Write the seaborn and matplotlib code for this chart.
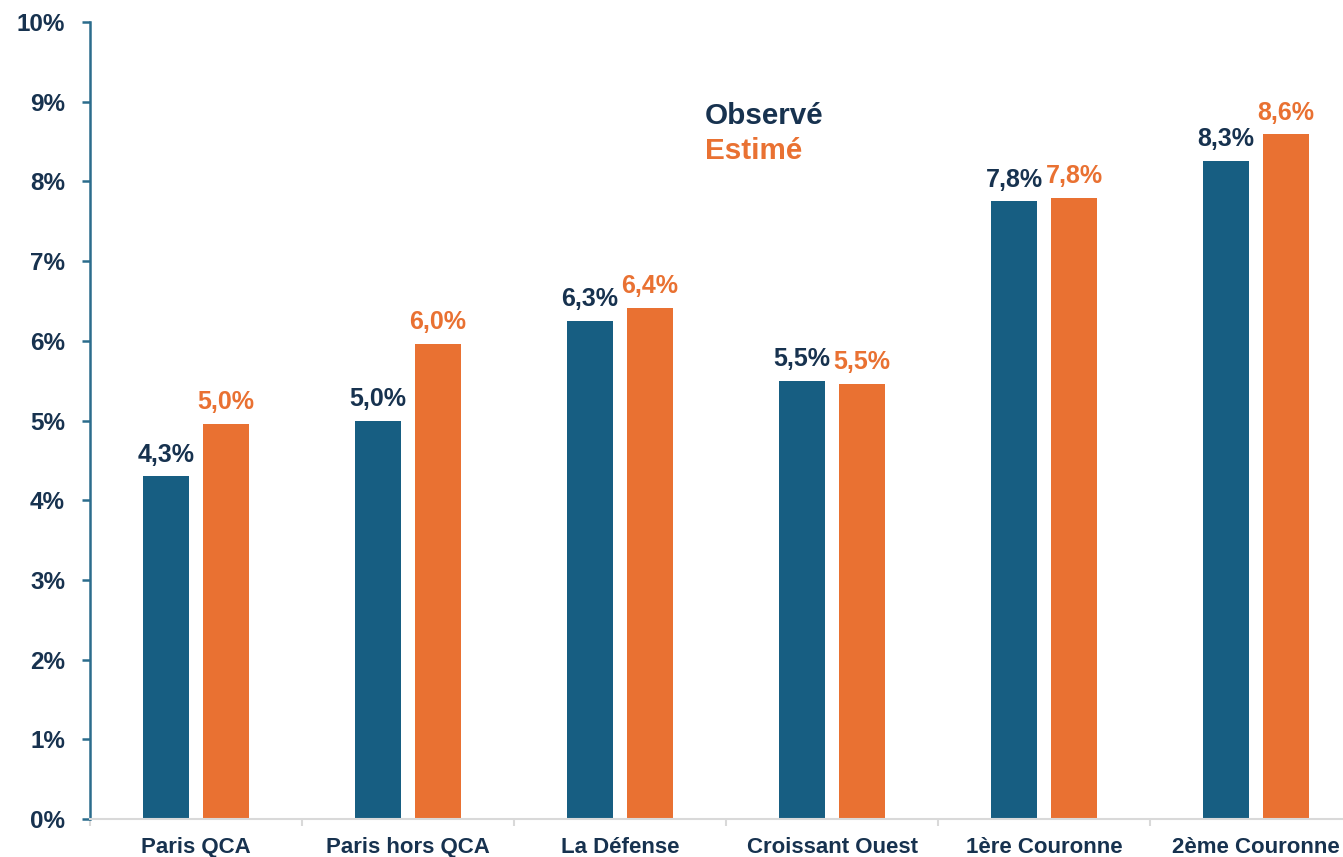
import matplotlib
matplotlib.use("Agg")
import matplotlib.pyplot as plt
import seaborn as sns
import pandas as pd
import numpy as np

categories = ["Paris QCA", "Paris hors QCA", "La Défense", "Croissant Ouest", "1ère Couronne", "2ème Couronne"]
observe = [4.30, 5.00, 6.25, 5.50, 7.75, 8.26]
estime = [4.96, 5.96, 6.41, 5.46, 7.79, 8.59]
observe_labels = ["4,3%", "5,0%", "6,3%", "5,5%", "7,8%", "8,3%"]
estime_labels = ["5,0%", "6,0%", "6,4%", "5,5%", "7,8%", "8,6%"]
series = ["Observé", "Estimé"]
y_ticks = [0, 1, 2, 3, 4, 5, 6, 7, 8, 9, 10]
y_tick_labels = [f"{t}%" for t in y_ticks]

BLUE = "#175E82"
ORANGE = "#E97132"
NAVY = "#17324F"

sns.set_theme(style="white")
plt.rcParams["font.family"] = ["Liberation Sans", "DejaVu Sans"]
plt.rcParams["font.weight"] = "bold"

df = pd.DataFrame({
    "cat": categories * 2,
    "serie": [series[0]] * len(categories) + [series[1]] * len(categories),
    "val": observe + estime,
})

fig = plt.figure(figsize=(13.43, 8.57), dpi=100)
ax = fig.add_axes([90 / 1343, 38 / 857, 1272 / 1343, 797 / 857])

sns.barplot(data=df, x="cat", y="val", hue="serie", order=categories, hue_order=series,
            palette=[BLUE, ORANGE], width=0.566, gap=0.22, ax=ax, legend=False,
            edgecolor="none", saturation=1)

ax.set_ylim(0, 10)
ax.set_xlim(-0.5, len(categories) - 0.5)
ax.set_yticks(y_ticks)
ax.set_yticklabels(y_tick_labels)
ax.set_xlabel("")
ax.set_ylabel("")

for sp in ["top", "right"]:
    ax.spines[sp].set_visible(False)
ax.spines["left"].set_color("#2B6C8C")
ax.spines["left"].set_linewidth(1.8)
ax.spines["bottom"].set_color("#D9D9D9")
ax.spines["bottom"].set_linewidth(1.5)

ax.tick_params(axis="y", direction="out", length=6, width=1.8, color="#2B6C8C",
               labelsize=17.5, labelcolor=NAVY, pad=12, left=True)
ax.tick_params(axis="x", which="major", length=0, labelsize=16, labelcolor=NAVY, pad=13)
ax.set_xticks(np.arange(-0.5, len(categories), 1.0), minor=True)
ax.tick_params(axis="x", which="minor", direction="out", length=5, width=1.5, color="#D9D9D9", bottom=True)
for lab in ax.get_xticklabels() + ax.get_yticklabels():
    lab.set_fontweight("bold")

ax.bar_label(ax.containers[0], labels=observe_labels, padding=7, color=NAVY,
             fontsize=18, fontweight="bold")
ax.bar_label(ax.containers[1], labels=estime_labels, padding=7, color=ORANGE,
             fontsize=18, fontweight="bold")

fig.text(705 / 1343, 1 - 116 / 857, series[0], color=NAVY, fontsize=21.3, fontweight="bold", va="center", ha="left")
fig.text(705 / 1343, 1 - 151 / 857, series[1], color=ORANGE, fontsize=21.3, fontweight="bold", va="center", ha="left")

fig.savefig("out.png", dpi=100)
